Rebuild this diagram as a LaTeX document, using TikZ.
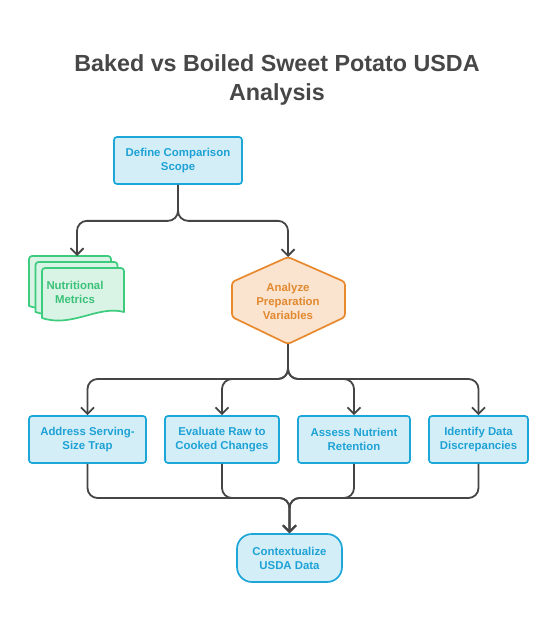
\documentclass[tikz,border=0pt]{standalone}
\usepackage{fontspec}
\setmainfont{Liberation Sans}
\usetikzlibrary{arrows.meta}
\definecolor{bluebd}{HTML}{1DA6D8}
\definecolor{bluefill}{HTML}{D4EEF8}
\definecolor{bluetxt}{HTML}{1EA2D5}
\definecolor{greenbd}{HTML}{3DCB7E}
\definecolor{greenfill}{HTML}{D9F3E4}
\definecolor{greentxt}{HTML}{3BC27A}
\definecolor{orangebd}{HTML}{E8892E}
\definecolor{orangefill}{HTML}{FAE3CF}
\definecolor{orangetxt}{HTML}{E2892F}
\definecolor{linegray}{HTML}{454545}
\definecolor{titlegray}{HTML}{474747}
\begin{document}
\begin{tikzpicture}[x=1pt,y=-1pt,
  boxtext/.style={font=\bfseries\fontsize{11.4}{14}\selectfont, align=center},
  bluebox/.style={boxtext, draw=bluebd, fill=bluefill, text=bluetxt, line width=1.7pt, rounded corners=3pt, minimum height=47pt, inner sep=0pt},
  docst/.style={draw=greenbd, fill=greenfill, line width=1.7pt, line join=round},
  hexst/.style={draw=orangebd, fill=orangefill, line width=1.7pt, rounded corners=3pt},
  conn/.style={draw=linegray, line width=1.8pt, rounded corners=10pt, -{Straight Barb[length=6.5pt,width=13pt]}},
]
\useasboundingbox (0,0) rectangle (559,636);

\node[font=\bfseries\fontsize{23.3}{29}\selectfont, text=titlegray, align=center] (title) at (277,80) {Baked vs Boiled Sweet Potato USDA\\Analysis};

\node[bluebox, minimum width=128pt] (define) at (178,160.5) {Define Comparison\\Scope};

% multi-document
\foreach \ox/\oy in {29/256, 35.5/262, 42/268}{
  \draw[docst] (\ox,\oy+50) [rounded corners=3pt] -- (\ox,\oy) -- (\ox+82,\oy) [sharp corners] -- (\ox+82,\oy+44)
    .. controls (\ox+56,\oy+37) and (\ox+30,\oy+60) .. (\ox,\oy+50) -- cycle;
}
\node[boxtext, text=greentxt] (nm) at (75,292) {Nutritional\\Metrics};
\coordinate (nmtop) at (77,256);

% hexagon
\draw[hexst] (288,257) -- (345,282) -- (345,317) -- (288,344) -- (232,317) -- (232,282) -- cycle;
\node[boxtext, text=orangetxt] (hex) at (288,301) {Analyze\\Preparation\\Variables};
\coordinate (hextop) at (288,257);
\coordinate (hexbot) at (288,344);

\node[bluebox, minimum width=117pt] (b1) at (87.5,439.5) {Address Serving-\\Size Trap};
\node[bluebox, minimum width=114pt] (b2) at (222,439.5) {Evaluate Raw to\\Cooked Changes};
\node[bluebox, minimum width=112pt] (b3) at (354,439.5) {Assess Nutrient\\Retention};
\node[bluebox, minimum width=99pt] (b4) at (478.5,439.5) {Identify Data\\Discrepancies};

\node[bluebox, minimum width=105pt, minimum height=48pt, rounded corners=15pt] (ctx) at (289.5,558) {Contextualize\\USDA Data};

% connectors
\draw[conn] (define.south) -- ++(0,36) -| (nmtop);
\draw[conn] (define.south) -- ++(0,36) -| (hextop);
\foreach \b in {b1,b2,b3,b4}{
  \draw[conn] (hexbot) -- (288,379) -| (\b.north);
}
\coordinate (merge) at (289.5,498);
\foreach \b in {b1,b2,b3,b4}{
  \draw[conn] (\b.south) |- (merge) -- (ctx.north);
}
\end{tikzpicture}
\end{document}
